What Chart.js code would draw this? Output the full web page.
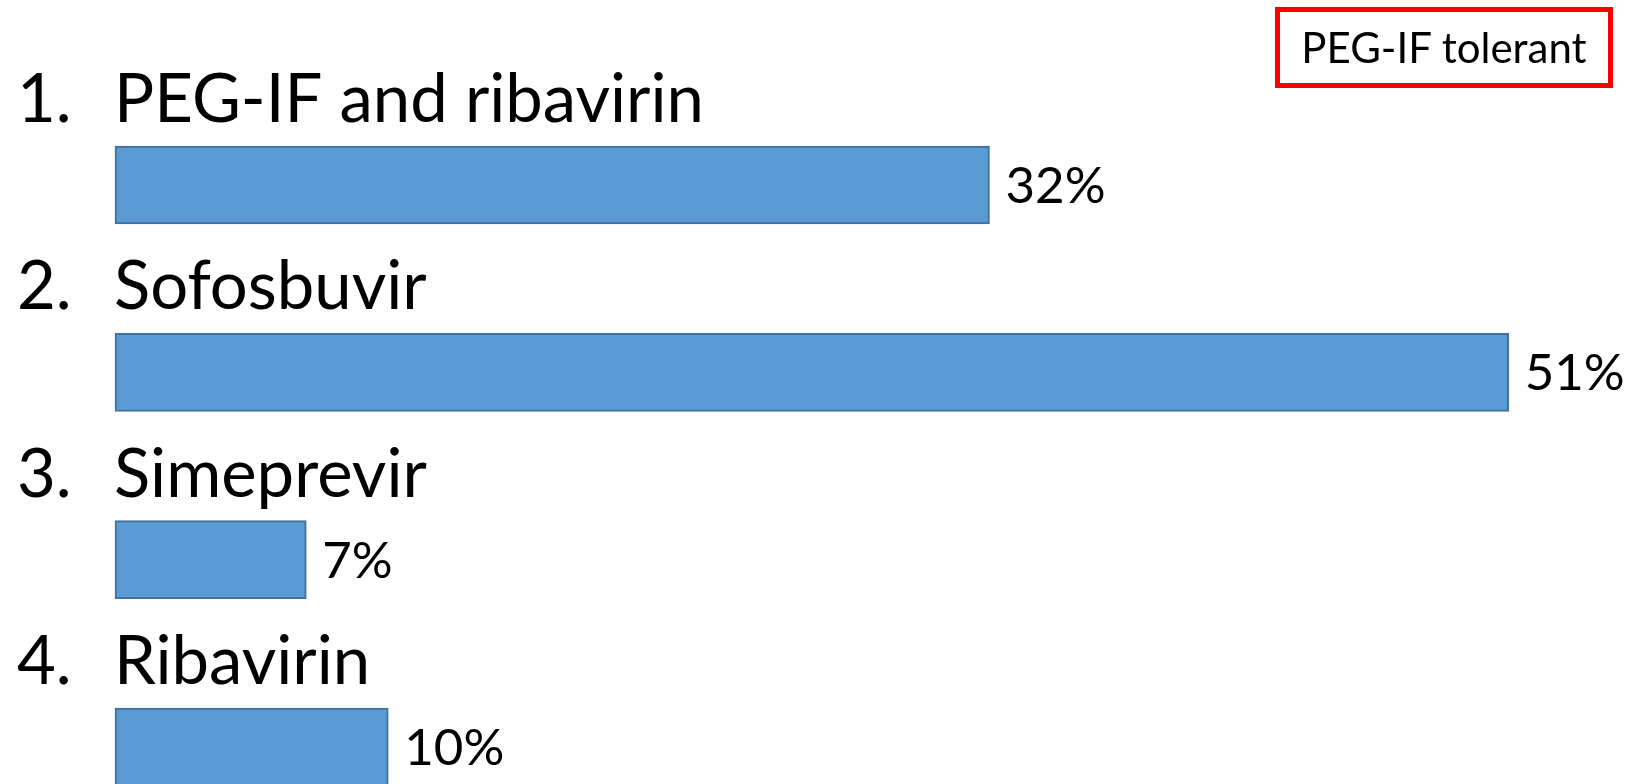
<!DOCTYPE html>
<html>
<head>
<meta charset="utf-8">
<script src="https://cdn.jsdelivr.net/npm/chart.js@4"></script>
<style>
  html, body { margin: 0; padding: 0; background: #fff; }
  #wrap { position: relative; width: 1630px; height: 784px; }
  #tag {
    position: absolute; left: 1275px; top: 7px; width: 328px; height: 71px;
    border: 5px solid #ff0000; font-family: Lato, sans-serif; font-size: 42px;
    color: #000; line-height: 71px; text-align: center; box-sizing: content-box;
  }
</style>
</head>
<body>
<div id="wrap">
  <canvas id="answerChart" width="1630" height="784"></canvas>
  <div id="tag">PEG-IF tolerant</div>
</div>
<script>
// answers and share of votes
const answers = ['PEG-IF and ribavirin', 'Sofosbuvir', 'Simeprevir', 'Ribavirin'];
const votes = [32, 51, 7, 10];

// draws "1. Answer" above each bar and the percent after it
const answerLabels = {
  id: 'answerLabels',
  afterDatasetsDraw(chart) {
    const ctx = chart.ctx;
    const meta = chart.getDatasetMeta(0);
    ctx.save();
    ctx.fillStyle = '#000';
    ctx.textBaseline = 'alphabetic';
    meta.data.forEach((bar, i) => {
      ctx.font = '67px Lato, sans-serif';
      ctx.textAlign = 'left';
      ctx.fillText((i + 1) + '.', 17, bar.y - 63);
      ctx.fillText(answers[i], 114, bar.y - 63);
      ctx.font = '51px Lato, sans-serif';
      ctx.fillText(votes[i] + '%', bar.x + 16, bar.y + 18);
    });
    ctx.restore();
  }
};

const ctx = document.getElementById('answerChart').getContext('2d');
new Chart(ctx, {
  type: 'bar',
  data: {
    labels: answers,
    datasets: [{
      data: votes,
      backgroundColor: '#5b9bd5',
      borderColor: '#41719c',
      borderWidth: 2,
      borderSkipped: false,
      barThickness: 78,
      clip: false
    }]
  },
  options: {
    indexAxis: 'y',
    responsive: false,
    animation: false,
    layout: { padding: { left: 115, right: 12, top: 185, bottom: 37 } },
    scales: {
      x: { display: false, min: 0, max: 55 },
      y: { display: false, offset: false, grid: { offset: false } }
    },
    plugins: {
      legend: { display: false },
      tooltip: { enabled: false }
    }
  },
  plugins: [answerLabels]
});
</script>
</body>
</html>
